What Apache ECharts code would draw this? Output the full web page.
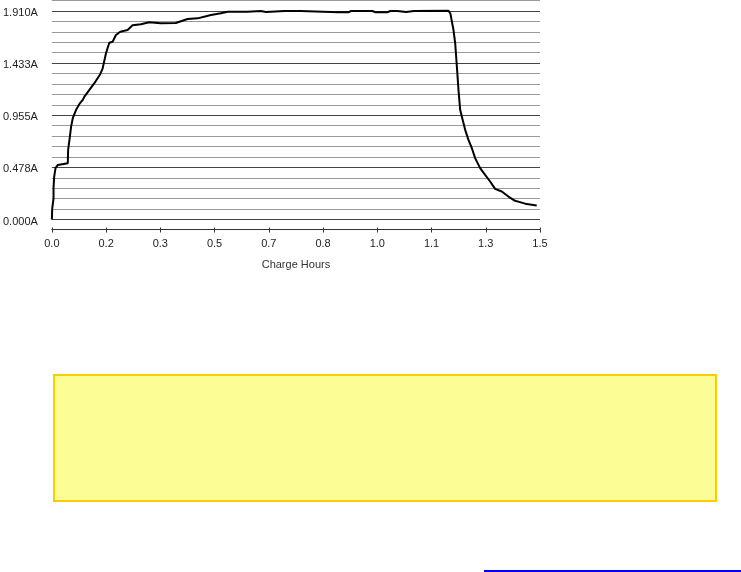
<!DOCTYPE html>
<html>
<head>
<meta charset="utf-8">
<script src="https://cdn.jsdelivr.net/npm/echarts@6/dist/echarts.min.js"></script>
<style>
html,body{margin:0;padding:0;background:#fff;}
#chart{width:741px;height:572px;}
</style>
</head>
<body>
<div id="chart"></div>
<script>
// Charge current (A) vs charge time (hours)
var chargeHours = [
  0, 0.001, 0.005, 0.005, 0.007, 0.011, 0.018, 0.023, 0.048, 0.049, 0.053, 0.058, 0.063,
  0.073, 0.083, 0.093, 0.098, 0.113, 0.128, 0.146, 0.153, 0.163, 0.173, 0.183, 0.193,
  0.206, 0.228, 0.243, 0.268, 0.293, 0.328, 0.373, 0.409, 0.439, 0.479, 0.509, 0.529,
  0.589, 0.629, 0.633, 0.645, 0.700, 0.749, 0.863, 0.873, 0.893, 0.900, 0.965, 0.975,
  1.010, 1.019, 1.040, 1.067, 1.072, 1.090, 1.194, 1.200, 1.2095, 1.2146, 1.2197, 1.2245,
  1.2296, 1.2347, 1.2447, 1.2546, 1.2648, 1.2747, 1.2897, 1.3048, 1.3198, 1.3348, 1.3549,
  1.3748, 1.3949, 1.4099, 1.4300, 1.4601
];
var chargeAmps = [
  0, 0.10, 0.19, 0.29, 0.393, 0.470, 0.500, 0.516, 0.516, 0.638, 0.729, 0.851, 0.928,
  1.004, 1.058, 1.095, 1.125, 1.187, 1.248, 1.333, 1.385, 1.522, 1.619, 1.628, 1.690,
  1.720, 1.735, 1.778, 1.788, 1.806, 1.797, 1.800, 1.836, 1.842, 1.873, 1.888, 1.903,
  1.903, 1.909, 1.902, 1.900, 1.909, 1.909, 1.898, 1.899, 1.897, 1.909, 1.909, 1.898,
  1.897, 1.909, 1.909, 1.900, 1.899, 1.910, 1.912, 1.888, 1.735, 1.614, 1.400, 1.187,
  1.004, 0.942, 0.821, 0.729, 0.653, 0.562, 0.470, 0.409, 0.348, 0.281, 0.256,
  0.210, 0.171, 0.159, 0.141, 0.128
];
var xTickLabels = ['0.0', '0.2', '0.3', '0.5', '0.7', '0.8', '1.0', '1.1', '1.3', '1.5'];
var yTickLabels = ['0.000A', '0.478A', '0.955A', '1.433A', '1.910A'];
var xAxisName = 'Charge Hours';

var X_MAX = 1.47, X_STEP = X_MAX / 9;
var Y_MAJOR = 0.4775, Y_MINOR = 0.0955, Y_MAX = 21 * 0.0955;

var points = chargeHours.map(function (h, i) { return [h, chargeAmps[i]]; });

var chart = echarts.init(document.getElementById('chart'), null, {renderer: 'canvas'});
var font = 'Liberation Sans, Arial, sans-serif';
chart.setOption({
  backgroundColor: '#ffffff',
  animation: false,
  grid: {left: 51, right: 201, top: 0.5, bottom: 352.5, containLabel: false},
  xAxis: [{
    type: 'value', min: 0, max: X_MAX, interval: X_STEP, position: 'bottom', offset: 10,
    axisLine: {show: true, onZero: false, lineStyle: {color: '#333', width: 1}},
    axisTick: {show: true, inside: false, length: 3, lineStyle: {color: '#333', width: 1}},
    splitLine: {show: false},
    axisLabel: {
      margin: 9, color: '#222', fontSize: 11, fontFamily: font,
      formatter: function (v) { var i = Math.round(v / X_STEP); return xTickLabels[i] || ''; }
    },
    name: xAxisName, nameLocation: 'middle', nameGap: 30,
    nameTextStyle: {color: '#333', fontSize: 11, fontFamily: font}
  }, {
    type: 'value', min: 0, max: X_MAX, interval: X_STEP, position: 'bottom', offset: 10,
    axisLine: {show: false, onZero: false},
    axisTick: {show: true, inside: true, length: 2, lineStyle: {color: '#333', width: 1}},
    splitLine: {show: false},
    axisLabel: {show: false}
  }],
  yAxis: {
    type: 'value', min: 0, max: Y_MAX, interval: Y_MINOR,
    axisLine: {show: false},
    axisTick: {show: false},
    splitLine: {show: true, lineStyle: {color: ['#444', '#999', '#999', '#999', '#999'], width: 1}},
    axisLabel: {
      margin: 14, color: '#222', fontSize: 11, fontFamily: font,
      verticalAlign: 'top', lineHeight: 4,
      formatter: function (v) {
        var k = v / Y_MAJOR, r = Math.round(k);
        if (Math.abs(k - r) < 0.01 && yTickLabels[r]) return yTickLabels[r];
        return '';
      }
    }
  },
  series: [{
    type: 'line', xAxisIndex: 0, data: points, showSymbol: false, symbol: 'none',
    lineStyle: {color: '#000', width: 2}, z: 5
  }],
  graphic: [
    {type: 'rect', shape: {x: 54, y: 375, width: 662, height: 126},
     style: {fill: '#FDFD96', stroke: '#FFCC00', lineWidth: 2}},
    {type: 'rect', shape: {x: 484, y: 570, width: 257, height: 2},
     style: {fill: '#0000FF'}}
  ]
});
</script>
</body>
</html>
